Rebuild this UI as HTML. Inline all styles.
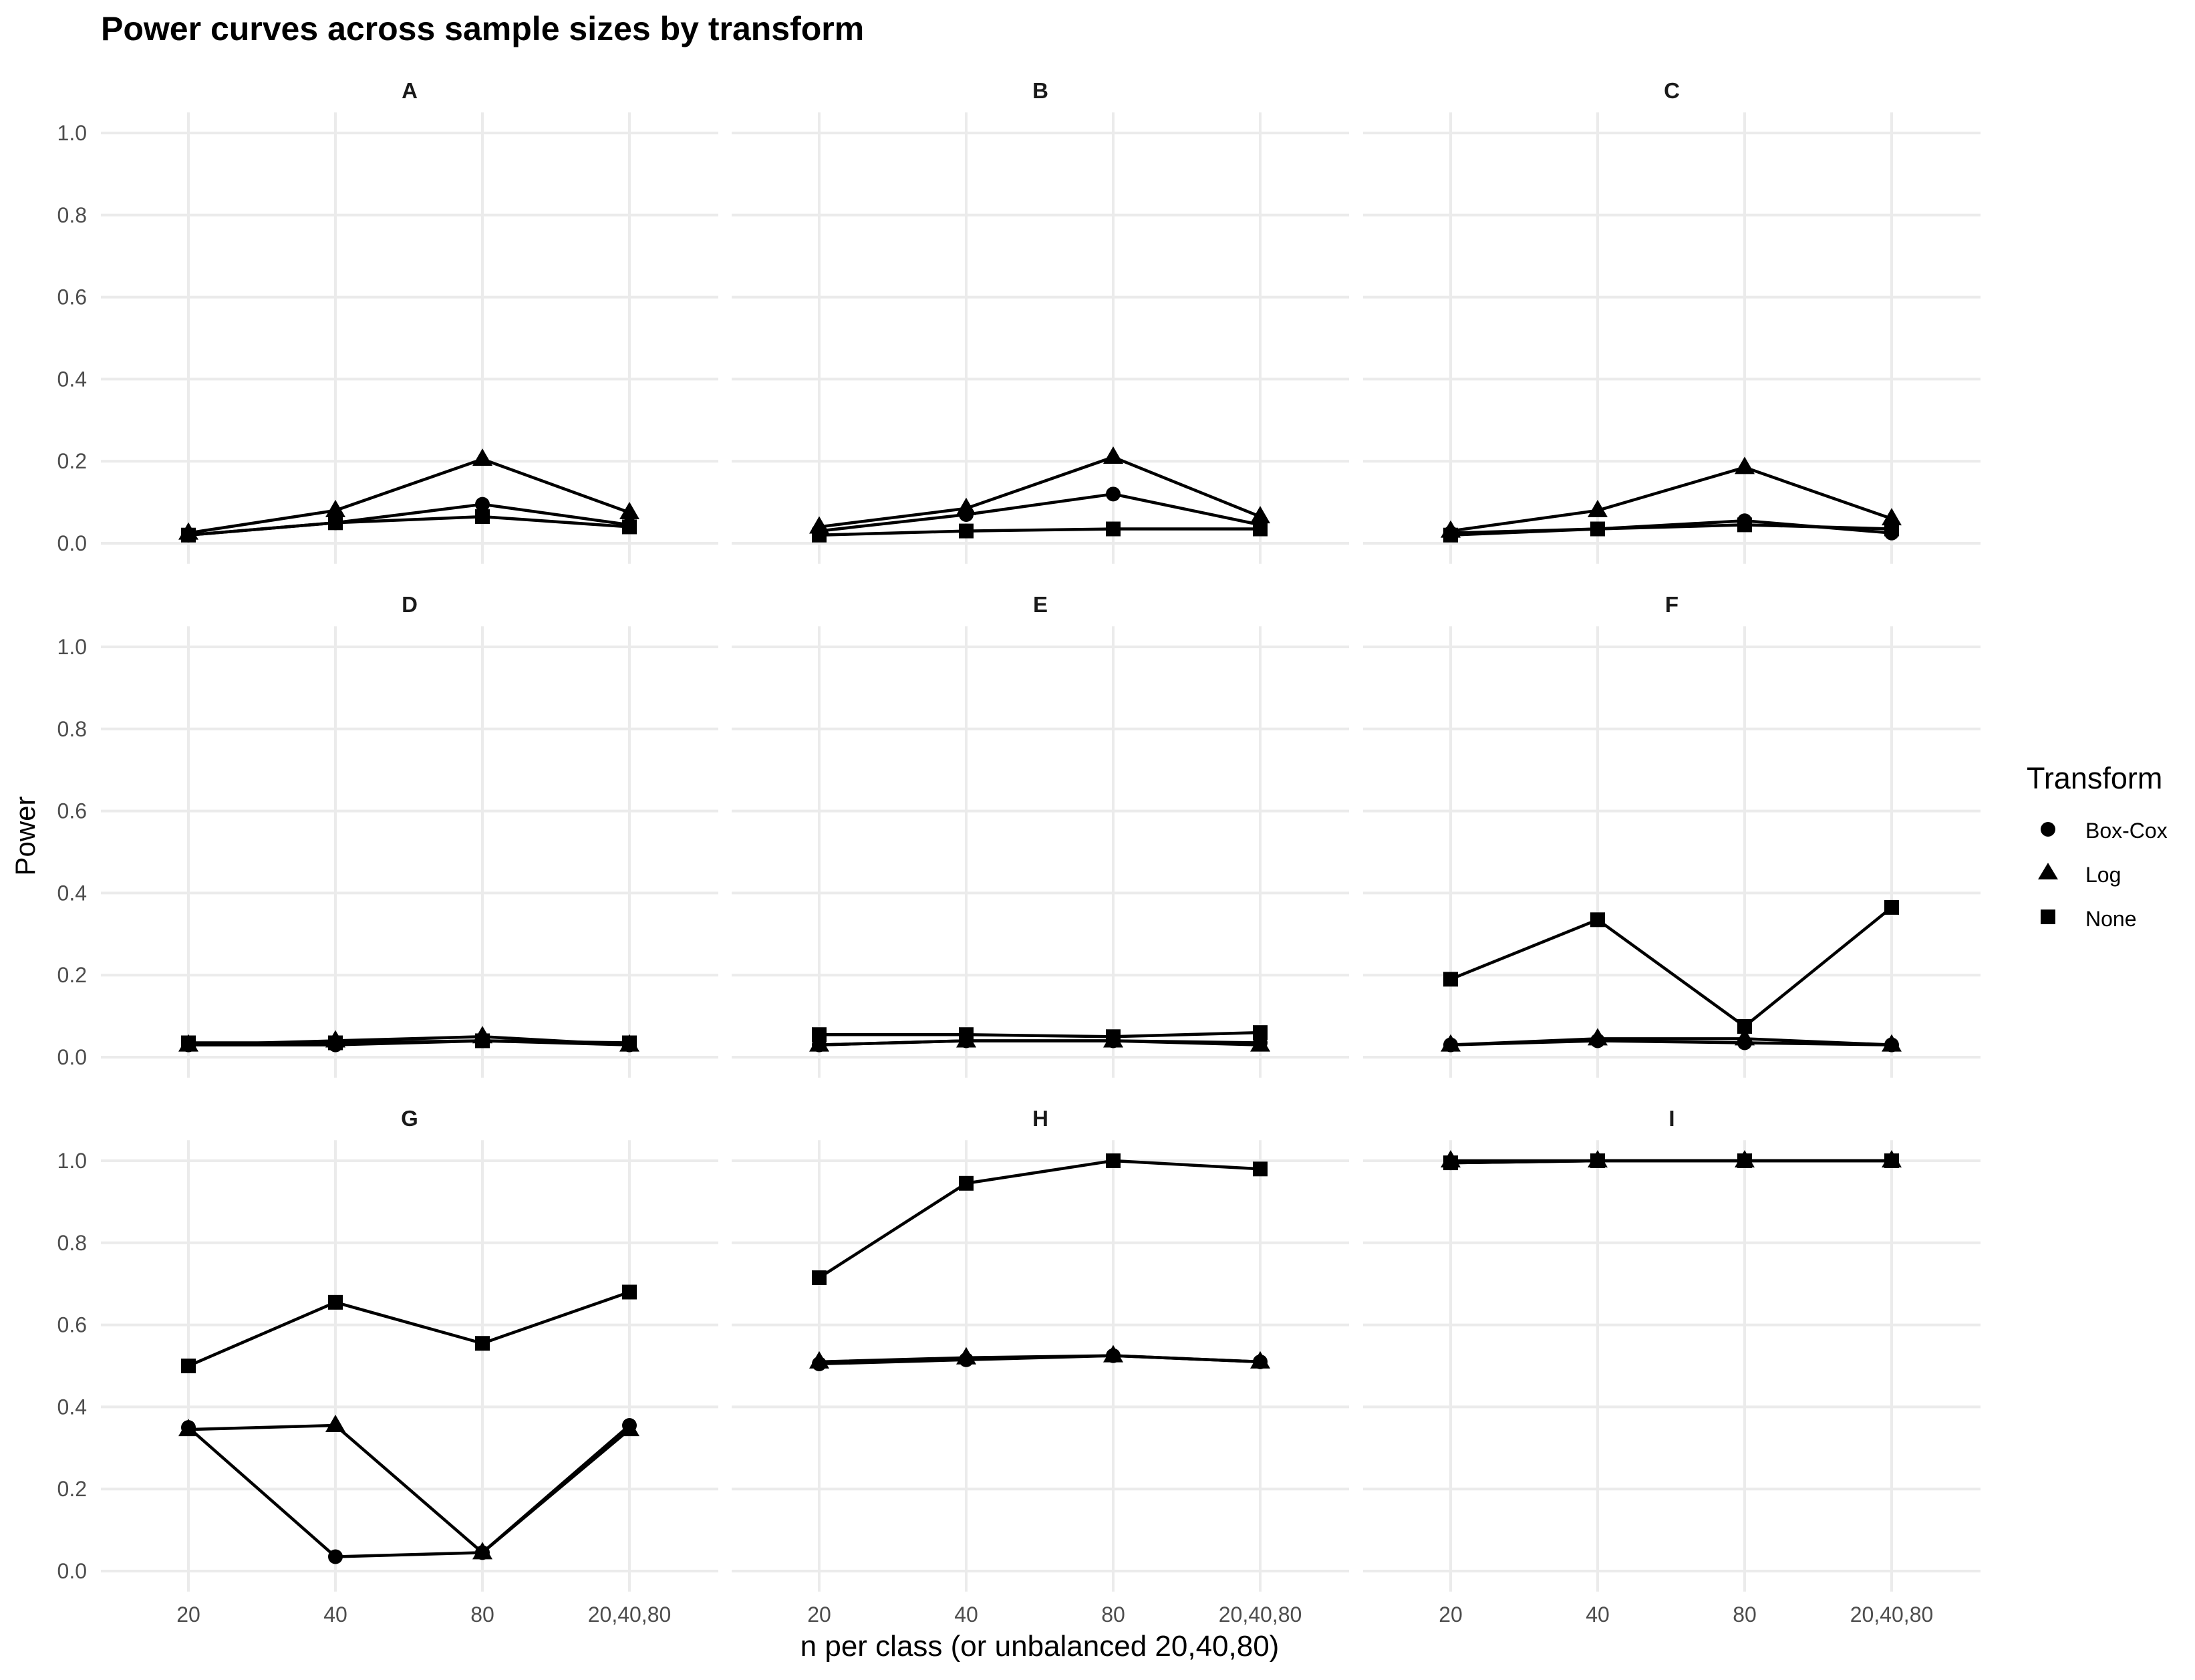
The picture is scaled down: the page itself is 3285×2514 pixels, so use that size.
<!DOCTYPE html>
<html><head><meta charset="utf-8"><style>
html,body{margin:0;padding:0;background:#fff;}
svg{display:block;font-family:"Liberation Sans",Arial,sans-serif;}
</style></head><body>
<svg id="chart" xmlns="http://www.w3.org/2000/svg" width="3285" height="2514" viewBox="0 0 3285 2514">
<rect width="3285" height="2514" fill="#fff"/>
<text x="151" y="60" font-size="50" font-weight="bold" fill="#000">Power curves across sample sizes by transform</text>
<text x="1556" y="2478" font-size="44" text-anchor="middle" fill="#000">n per class (or unbalanced 20,40,80)</text>
<text transform="translate(52,1251) rotate(-90)" font-size="42" text-anchor="middle" fill="#000">Power</text>
<g id="panels"></g>
<g>
<text x="3033" y="1180" font-size="45" fill="#000">Transform</text>
<circle cx="3065" cy="1241" r="11" fill="#000"/>
<text x="3121" y="1254" font-size="32" fill="#000">Box-Cox</text>
<polygon points="3065,1291 3080,1316 3050,1316" fill="#000"/>
<text x="3121" y="1320" font-size="32" fill="#000">Log</text>
<rect x="3054" y="1361" width="22" height="22" fill="#000"/>
<text x="3121" y="1386" font-size="32" fill="#000">None</text>
</g>
</svg>
<script>
const panelNames = ["A","B","C","D","E","F","G","H","I"];
const categories = ["20","40","80","20,40,80"];
const yTicks = [0,0.2,0.4,0.6,0.8,1.0];
const yTickLabels = ["0.0","0.2","0.4","0.6","0.8","1.0"];
const boxCox = [
 [0.02,0.05,0.095,0.045],[0.03,0.07,0.12,0.045],[0.025,0.035,0.055,0.025],
 [0.03,0.03,0.04,0.03],[0.03,0.04,0.04,0.035],[0.03,0.04,0.035,0.03],
 [0.35,0.035,0.045,0.355],[0.505,0.515,0.525,0.51],[0.995,1.0,1.0,1.0]];
const logT = [
 [0.025,0.08,0.205,0.075],[0.04,0.085,0.21,0.065],[0.03,0.08,0.185,0.06],
 [0.03,0.04,0.05,0.03],[0.03,0.04,0.04,0.03],[0.03,0.045,0.045,0.03],
 [0.345,0.355,0.045,0.345],[0.51,0.52,0.525,0.51],[1.0,1.0,1.0,1.0]];
const noneT = [
 [0.02,0.05,0.065,0.04],[0.02,0.03,0.035,0.035],[0.02,0.035,0.045,0.035],
 [0.035,0.035,0.04,0.035],[0.055,0.055,0.05,0.06],[0.19,0.335,0.075,0.365],
 [0.5,0.655,0.555,0.68],[0.715,0.945,1.0,0.98],[0.995,1.0,1.0,1.0]];

const NS="http://www.w3.org/2000/svg";
const root=document.getElementById('panels');
function mk(tag,attrs,parent){const e=document.createElementNS(NS,tag);for(const k in attrs)e.setAttribute(k,attrs[k]);parent.appendChild(e);return e;}
const colLeft=[151,1095,2040], panelW=924, rowY0=[813,1582,2351], unit=614, step=220, pad=131;
panelNames.forEach((name,pi)=>{
  const c=pi%3, r=Math.floor(pi/3);
  const L=colLeft[c];
  const xs=i=>L+pad+i*step;
  const ys=v=>rowY0[r]-v*unit;
  const g=mk('g',{},root);
  
  
  const top=ys(1.05), bot=ys(-0.05);
  yTicks.forEach((t,ti)=>{
    const ln=mk('line',{x1:L,x2:L+panelW,y1:ys(t),y2:ys(t),stroke:'#ebebeb','stroke-width':4},g);
    
    
    if(c===0){
      const tx=mk('text',{x:130,y:ys(t)+11,'font-size':32,'text-anchor':'end',fill:'#4d4d4d'},g);
      
      
      tx.textContent=yTickLabels[ti];
    }
  });
  categories.forEach((cat,i)=>{
    const ln=mk('line',{x1:xs(i),x2:xs(i),y1:top,y2:bot,stroke:'#ebebeb','stroke-width':4},g);
    
    
    if(r===2){
      const tx=mk('text',{x:xs(i),y:2427,'font-size':32,'text-anchor':'middle',fill:'#4d4d4d'},g);
      
      
      tx.textContent=cat;
    }
  });
  const st=mk('text',{x:L+panelW/2,y:rowY0[r]-666,'font-size':33,'font-weight':'bold','text-anchor':'middle',fill:'#1a1a1a'},g);
  
  
  st.textContent=name;
  const series=[['box-cox',boxCox[pi],'circle'],['log',logT[pi],'tri'],['none',noneT[pi],'square']];
  series.forEach(([sn,vals])=>{
    const pts=vals.map((v,i)=>xs(i)+','+ys(v)).join(' ');
    const pl=mk('polyline',{points:pts,fill:'none',stroke:'#000','stroke-width':4.5,'stroke-linejoin':'round'},g);
    
    
  });
  series.forEach(([sn,vals,shape])=>{
    vals.forEach((v,i)=>{
      const x=xs(i), y=ys(v); let m;
      if(shape==='circle') m=mk('circle',{cx:x,cy:y,r:11,fill:'#000'},g);
      else if(shape==='tri') m=mk('polygon',{points:`${x},${y-16} ${x+15},${y+10} ${x-15},${y+10}`,fill:'#000'},g);
      else m=mk('rect',{x:x-11,y:y-11,width:22,height:22,fill:'#000'},g);
      
      
    });
  });
});
</script>
</body></html>
